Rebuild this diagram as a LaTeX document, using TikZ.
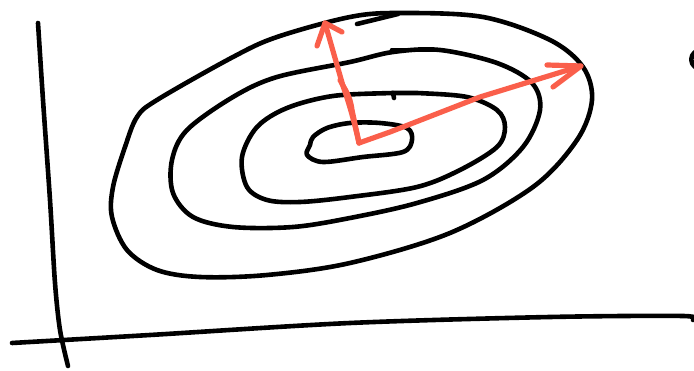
\documentclass[tikz,border=0pt]{standalone}
\definecolor{penred}{HTML}{FA5F4B}
\tikzset{
  ink/.style={draw=black, line width=4.6pt, line cap=round, line join=round},
  redink/.style={draw=penred, line width=5.2pt, line cap=round, line join=round},
}
\begin{document}
\begin{tikzpicture}[x=1pt,y=-1pt]
\useasboundingbox (0,0) rectangle (694,371);
% axes
\draw[ink] plot[smooth, tension=0.5] coordinates {(38,23) (43,100) (50,200) (55,283) (60,330) (68,366)};
\draw[ink] plot[smooth, tension=0.5] coordinates {(12,343) (150,335) (350,323) (550,317) (683,316) (693,320)};
% outer contour
\draw[ink] plot[smooth cycle, tension=0.55] coordinates {
 (350,17) (277,37) (233,57) (157,100) (137,117) (125,147) (113,187) (112,217)
 (127,250) (157,270) (200,277) (267,275) (350,263) (450,233) (533,187)
 (577,140) (592,100) (583,67) (550,40) (483,17) (400,13)};
\draw[ink] (357,24) -- (398,14);
% second contour
\draw[ink] plot[smooth cycle, tension=0.55] coordinates {
 (350,62) (277,77) (233,97) (187,130) (172,160) (173,193) (193,217) (233,227)
 (293,227) (350,218) (417,203) (483,180) (523,147) (540,110) (532,83)
 (497,63) (440,50) (393,52)};
\draw[ink] (392,50) -- (438,50);
% third contour
\draw[ink] plot[smooth cycle, tension=0.55] coordinates {
 (333,96) (287,108) (257,127) (242,157) (247,187) (267,200) (300,202) (350,197)
 (417,187) (460,170) (497,147) (505,127) (497,110) (467,97) (417,93) (393,93)};
\draw[ink] (393,93) -- (394,98);
% inner contour
\draw[ink] plot[smooth cycle, tension=0.55] coordinates {
 (310,145) (307,155) (323,162) (363,157) (403,152) (412,140) (407,128)
 (380,123) (350,123) (327,128) (313,137)};
% partial mark at right edge
\draw[ink] (695,52) .. controls (690,56) and (690,63) .. (695,67);
% red arrows
\coordinate (o) at (359,143);
\coordinate (t1) at (325,23);
\coordinate (t2) at (581,66);
\draw[redink] (o) .. controls (354,120) and (348,100) .. (343,86) -- (t1);
\draw[redink] (o) -- (352,110) .. controls (350,95) and (345,90) .. (340,80);
\draw[redink] (342,32) -- (t1) -- (317,46);
\draw[redink] (o) -- (390,132) -- (480,97) -- (t2);
\draw[redink] (547,65) -- (t2) -- (553,87);
\end{tikzpicture}
\end{document}
